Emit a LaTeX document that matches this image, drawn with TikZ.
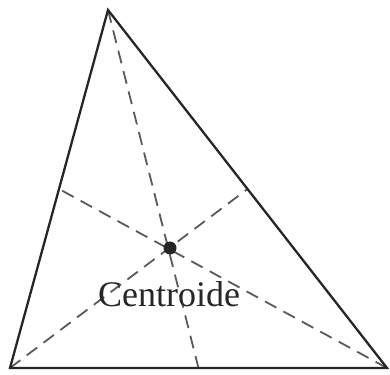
\documentclass[tikz,border=0pt]{standalone}
\usepackage{fontspec}
\setmainfont{Liberation Serif}
\begin{document}
\begin{tikzpicture}[x=1pt,y=1pt,
  side/.style={draw=black!85, line width=2.3pt, line join=miter},
  median/.style={draw=black!65, line width=1.8pt, dash pattern=on 13pt off 8pt},
  cdot/.style={circle, fill=black!85, inner sep=0pt, minimum size=13pt},
  lbl/.style={font=\fontsize{36}{42}\selectfont, text=black!85, inner sep=0pt}]
\useasboundingbox (0,0) rectangle (390,374);
\coordinate (A) at (108,364);
\coordinate (B) at (10,6);
\coordinate (C) at (387,6);
\coordinate (MA) at (198.5,6);
\coordinate (MB) at (247.5,185);
\coordinate (MC) at (59,185);
\draw[median] (A) -- (MA);
\draw[median] (B) -- (MB);
\draw[median] (C) -- (MC);
\draw[side] (A) -- (B) -- (C) -- cycle;
\node[cdot] (G) at (170,126) {};
\node[lbl] (L) at (169,80) {Centroide};
\end{tikzpicture}
\end{document}
